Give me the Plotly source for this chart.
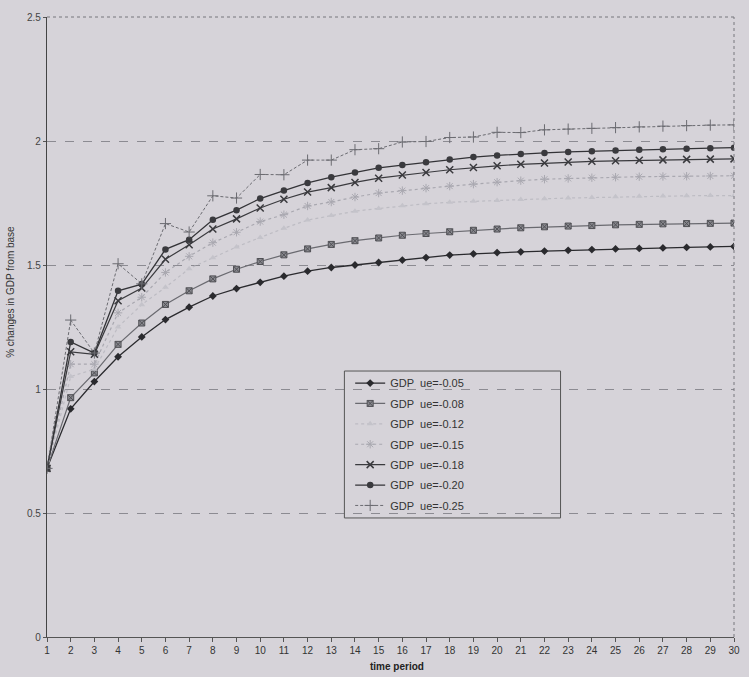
import plotly.graph_objects as go

periods = list(range(1, 31))

gdp_005 = [0.68, 0.92, 1.03, 1.13, 1.21, 1.28, 1.33, 1.375, 1.405, 1.43, 1.455, 1.475, 1.49, 1.50, 1.51,
           1.52, 1.53, 1.54, 1.545, 1.55, 1.553, 1.556, 1.559, 1.562, 1.565, 1.567, 1.569, 1.571, 1.573, 1.575]
gdp_008 = [0.68, 0.965, 1.065, 1.18, 1.266, 1.341, 1.396, 1.444, 1.483, 1.514, 1.541, 1.565, 1.583, 1.598, 1.609,
           1.62, 1.627, 1.634, 1.64, 1.645, 1.65, 1.654, 1.657, 1.659, 1.662, 1.664, 1.666, 1.667, 1.668, 1.669]
gdp_012 = [0.68, 1.05, 1.08, 1.25, 1.34, 1.41, 1.485, 1.529, 1.573, 1.611, 1.648, 1.681, 1.70, 1.717, 1.728,
           1.739, 1.747, 1.753, 1.757, 1.76, 1.764, 1.767, 1.77, 1.772, 1.775, 1.777, 1.778, 1.779, 1.78, 1.78]
gdp_015 = [0.68, 1.10, 1.10, 1.307, 1.37, 1.47, 1.535, 1.59, 1.632, 1.675, 1.703, 1.738, 1.754, 1.774, 1.79,
           1.80, 1.81, 1.818, 1.826, 1.834, 1.84, 1.846, 1.849, 1.852, 1.854, 1.856, 1.857, 1.858, 1.859, 1.86]
gdp_018 = [0.68, 1.15, 1.14, 1.356, 1.407, 1.523, 1.582, 1.645, 1.686, 1.73, 1.765, 1.794, 1.812, 1.833, 1.85,
           1.863, 1.873, 1.884, 1.893, 1.90, 1.906, 1.911, 1.915, 1.918, 1.92, 1.922, 1.924, 1.926, 1.927, 1.928]
gdp_020 = [0.68, 1.19, 1.145, 1.396, 1.423, 1.563, 1.602, 1.682, 1.721, 1.768, 1.80, 1.831, 1.854, 1.873, 1.892,
           1.903, 1.914, 1.925, 1.935, 1.942, 1.948, 1.952, 1.956, 1.959, 1.962, 1.965, 1.967, 1.969, 1.971, 1.973]
gdp_025 = [0.68, 1.278, 1.145, 1.505, 1.424, 1.667, 1.633, 1.779, 1.77, 1.865, 1.864, 1.923, 1.923, 1.965, 1.969,
           1.996, 1.998, 2.014, 2.016, 2.035, 2.034, 2.045, 2.048, 2.051, 2.054, 2.057, 2.06, 2.062, 2.064, 2.065]

series_names = ["GDP\u00a0\u00a0ue=-0.05", "GDP\u00a0\u00a0ue=-0.08", "GDP\u00a0\u00a0ue=-0.12",
                "GDP\u00a0\u00a0ue=-0.15", "GDP\u00a0\u00a0ue=-0.18", "GDP\u00a0\u00a0ue=-0.20",
                "GDP\u00a0\u00a0ue=-0.25"]
series_values = [gdp_005, gdp_008, gdp_012, gdp_015, gdp_018, gdp_020, gdp_025]

y_ticks = [0, 0.5, 1, 1.5, 2, 2.5]
y_tick_text = ["0", "0.5", "1", "1.5", "2", "2.5"]

styles = [
    dict(line=dict(color="#2a2a2e", width=1.3, dash="solid"),
         marker=dict(symbol="diamond", size=6, color="#2a2a2e")),
    dict(line=dict(color="#6a6a70", width=1.2, dash="solid"),
         marker=dict(symbol="square-x", size=6, color="#8a8a90", line=dict(color="#505055", width=1))),
    dict(line=dict(color="#bdbcc3", width=1.2, dash="dot"),
         marker=dict(symbol="triangle-up", size=6, color="#c4c3ca")),
    dict(line=dict(color="#a9a8b0", width=1.2, dash="dot"),
         marker=dict(symbol="asterisk-open", size=7, color="#a9a8b0", line=dict(color="#a9a8b0", width=1))),
    dict(line=dict(color="#3a3a3e", width=1.2, dash="solid"),
         marker=dict(symbol="x-thin-open", size=7, color="#3a3a3e", line=dict(color="#3a3a3e", width=1.5))),
    dict(line=dict(color="#333337", width=1.3, dash="solid"),
         marker=dict(symbol="circle", size=6.5, color="#3a3a3e")),
    dict(line=dict(color="#6b6b71", width=1, dash="3px,2px"),
         marker=dict(symbol="cross-thin-open", size=8, color="#6b6b71", line=dict(color="#6b6b71", width=1))),
]

bg = "#d6d3d9"

fig = go.Figure()
for i, (name, vals, st) in enumerate(zip(series_names, series_values, styles)):
    fig.add_trace(go.Scatter(x=periods, y=vals, name=name, mode="lines+markers",
                             legendgroup=f"g{i}",
                             line=st["line"], marker=st["marker"]))

fig.update_layout(
    width=749, height=677,
    margin=dict(l=47, r=9, t=17, b=40),
    paper_bgcolor=bg, plot_bgcolor=bg,
    font=dict(family="Liberation Sans, Arial, sans-serif", size=10, color="#333"),
    showlegend=True,
    legend=dict(x=0.4413, y=0.433, xanchor="left", yanchor="top",
                bgcolor="rgba(0,0,0,0)", borderwidth=0, traceorder="grouped",
                tracegroupgap=1.4,
                font=dict(size=11, color="#333"), itemwidth=30),
    xaxis=dict(range=[1, 30], tickmode="array", tickvals=periods,
               showgrid=False, zeroline=False, showline=True, linecolor="#555", linewidth=1,
               ticks="outside", ticklen=4, tickcolor="#555",
               tickfont=dict(size=10, color="#333")),
    yaxis=dict(range=[0, 2.5], tickmode="array", tickvals=y_ticks, ticktext=y_tick_text,
               showgrid=True, gridcolor="#8c8b92", griddash="dash", gridwidth=1,
               zeroline=False, showline=True, linecolor="#444", linewidth=1.2,
               ticks="outside", ticklen=3, tickcolor="#555",
               tickfont=dict(size=10, color="#444")),
    shapes=[
        dict(type="line", xref="paper", yref="paper", x0=0, x1=1, y0=1, y1=1,
             line=dict(color="#77767c", width=1, dash="dot")),
        dict(type="line", xref="paper", yref="paper", x0=1, x1=1, y0=0, y1=1,
             line=dict(color="#77767c", width=1, dash="dot")),
        dict(type="rect", xref="paper", yref="paper", x0=0.4329, x1=0.7475, y0=0.192, y1=0.429,
             line=dict(color="#555", width=1), fillcolor="rgba(0,0,0,0)"),
    ],
    annotations=[
        dict(text="% changes in GDP from base", xref="paper", yref="paper", x=-0.053, y=0.556,
             xanchor="center", yanchor="middle",
             textangle=-90, showarrow=False, font=dict(size=10, color="#333")),
        dict(text="<b>time period</b>", xref="paper", yref="paper", x=0.509, y=-0.036,
             xanchor="center", yanchor="top", showarrow=False, font=dict(size=10, color="#222")),
    ],
)

fig.write_html("out.html", config={"displayModeBar": False},
               post_script="document.body.style.margin='0';document.body.style.background='#d6d3d9';")
